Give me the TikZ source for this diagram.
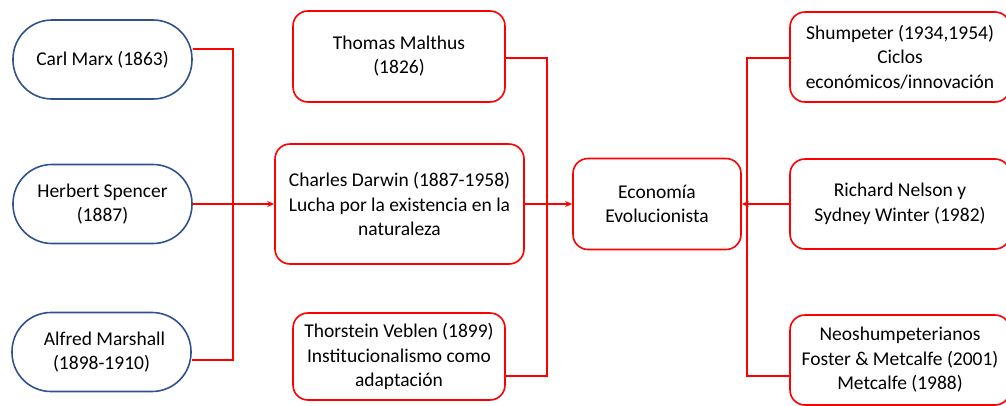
\documentclass[tikz,border=0pt]{standalone}
\usepackage{fontspec}
\setmainfont{Carlito}
\usetikzlibrary{arrows.meta}
\definecolor{bblue}{HTML}{2F528F}
\definecolor{rred}{HTML}{FF0000}
\begin{document}
\begin{tikzpicture}[x=1pt,y=-1pt,
  every node/.style={font=\fontsize{19.5}{24.5}\selectfont, align=center, inner sep=0pt},
  stadium/.style={draw=bblue, line width=1.6pt, rounded corners=39pt, minimum width=179pt, minimum height=79pt},
  rbox/.style={draw=rred, line width=1.6pt, rounded corners=15pt},
  conn/.style={draw=rred, line width=1.5pt},
  arr/.style={conn, -{Stealth[length=7pt,width=6pt]}}]
\useasboundingbox (0,0) rectangle (1006,405);
% left column
\node[stadium] (marx) at (102.5,59.5) {Carl Marx (1863)};
\node[stadium] (spencer) at (102.5,204) {Herbert Spencer\\(1887)};
\node[stadium] (marshall) at (101.5,352) {\hspace{6pt}Alfred Marshall\\(1898-1910)};
% middle column
\node[rbox, minimum width=212pt, minimum height=91pt] (malthus) at (399,56.5) {\raisebox{-3pt}{\begin{tabular}{@{}c@{}}Thomas Malthus\\[-1pt](1826)\end{tabular}}};
\node[rbox, minimum width=249pt, minimum height=120pt] (darwin) at (399.5,204) {Charles Darwin (1887-1958)\\Lucha por la existencia en la\\naturaleza};
\node[rbox, minimum width=212pt, minimum height=87pt] (veblen) at (399,356.5) {Thorstein Veblen (1899)\\Institucionalismo como\\adaptación};
% centre
\node[rbox, minimum width=168pt, minimum height=91pt] (eco) at (657,204) {Economía\\Evolucionista};
% right column
\node[rbox, minimum width=220pt, minimum height=90pt] (shum) at (900,57) {Shumpeter (1934,1954)\\Ciclos\\económicos/innovación};
\node[rbox, minimum width=220pt, minimum height=90pt] (nelson) at (900,204) {Richard Nelson y\\Sydney Winter (1982)};
\node[rbox, minimum width=220pt, minimum height=90pt] (neo) at (900,360) {Neoshumpeterianos\\Foster \& Metcalfe (2001)\\Metcalfe (1988)};
% junction coordinates
\coordinate (jl) at (233,204);
\coordinate (jm) at (547,204);
\coordinate (jr) at (747,204);
% left connectors
\draw[conn] ([yshift=10.5pt]marx.east) -| (jl);
\draw[conn] ([yshift=-8pt]marshall.east) -| (jl);
\draw[arr] (spencer.east) -- (darwin.west);
% middle connectors
\draw[conn] ([yshift=-1.5pt]malthus.east) -| (jm);
\draw[conn] ([yshift=-19.5pt]veblen.east) -| (jm);
\draw[arr] (darwin.east) -- (eco.west);
% right connectors
\draw[conn] ([yshift=-1pt]shum.west) -| (jr);
\draw[conn] ([yshift=-16pt]neo.west) -| (jr);
\draw[arr] (nelson.west) -- (eco.east);
\end{tikzpicture}
\end{document}
